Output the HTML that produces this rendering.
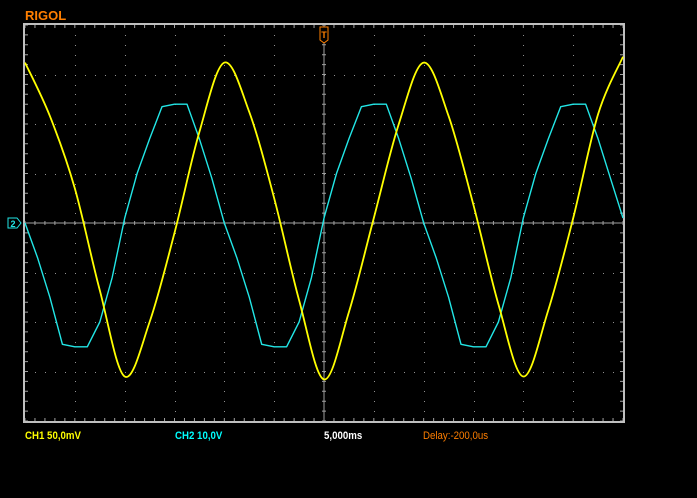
<!DOCTYPE html>
<html><head><meta charset="utf-8">
<style>
html,body{margin:0;padding:0;background:#000;width:697px;height:498px;overflow:hidden}
.lbl{position:absolute;font-family:"Liberation Sans",sans-serif;font-size:11px;font-weight:bold;top:430px;transform:scaleX(0.88);transform-origin:left}
</style></head><body>
<div style="position:relative;width:697px;height:498px">
<svg id="scope" width="697" height="498" style="position:absolute;left:0;top:0">
  <text x="25" y="20" fill="#ff7f00" font-family="Liberation Sans, sans-serif" font-weight="bold" font-size="13">RIGOL</text>
</svg>
<div class="lbl" style="left:25px;color:#ffff00">CH1 50,0mV</div>
<div class="lbl" style="left:175px;color:#00ffff">CH2 10,0V</div>
<div class="lbl" style="left:324px;color:#fff">5,000ms</div>
<div class="lbl" style="left:423px;color:#ff7f00;font-weight:normal">Delay:-200,0us</div>
</div>
<script>
// time (ms) of samples; CH1 in mV, CH2 in V
const ch1Values = [162,108,35,-68,-155,-100,-10,92,162,112,25,-78,-158,-90,5,100,162,108,18,-82,-155,-88,5,110,168];
const ch1Step = 2.5;
const ch2Values = [0,-7,-15,-24.5,-25,-25,-20,-11,1,10,17,23.5,24,24,17,9,
                   0,-7,-15,-24.5,-25,-25,-20,-11,1,10,17,23.5,24,24,17,9,
                   0,-7,-15,-24.5,-25,-25,-20,-11,1,10,17,23.5,24,24,17,9,1];
const ch2Step = 1.25;
const ch1PerDiv = 50, ch2PerDiv = 10, msPerDiv = 5;

const L=25,R=623,T=25,B=421,CY=(T+B)/2,DX=(R-L)/12,DY=(B-T)/8;
const xT = t => L + t/msPerDiv*DX;
const y1 = v => CY - v/ch1PerDiv*DY;
const y2 = v => CY - v/ch2PerDiv*DY;
const svg=document.getElementById('scope');
const NS='http://www.w3.org/2000/svg';
function mk(tag,attrs){const e=document.createElementNS(NS,tag);for(const k in attrs)e.setAttribute(k,attrs[k]);svg.appendChild(e);return e;}
function smooth(pts){
  let s=`M${pts[0][0].toFixed(1)} ${pts[0][1].toFixed(1)}`;
  for(let i=0;i<pts.length-1;i++){
    const p0=pts[Math.max(0,i-1)],p1=pts[i],p2=pts[i+1],p3=pts[Math.min(pts.length-1,i+2)];
    const c1=[p1[0]+(p2[0]-p0[0])/6,p1[1]+(p2[1]-p0[1])/6];
    const c2=[p2[0]-(p3[0]-p1[0])/6,p2[1]-(p3[1]-p1[1])/6];
    s+=`C${c1[0].toFixed(1)} ${c1[1].toFixed(1)} ${c2[0].toFixed(1)} ${c2[1].toFixed(1)} ${p2[0].toFixed(1)} ${p2[1].toFixed(1)}`;
  }
  return s;
}
// grid dots
let d='';
for(let i=1;i<12;i++){const x=Math.round(L+i*DX)+0.5;if(i===6)continue;for(let y=T+10;y<B;y+=DY/5)d+=`M${x-0.5} ${Math.round(y)}h1v1h-1z`;}
for(let j=1;j<8;j++){const y=Math.round(T+j*DY);if(j===4)continue;for(let x=L+10;x<R;x+=DX/5)d+=`M${Math.round(x)} ${y}h1v1h-1z`;}
const g=mk('path',{d:d,fill:'#909090'});


// center axes with ticks
let a=`M${L} ${CY}H${R}M${(L+R)/2} ${T}V${B}`;
for(let x=L;x<=R;x+=DX/5){a+=`M${x} ${CY-2}v4M${x} ${T}v3M${x} ${B}v-3`;}
for(let y=T;y<=B;y+=DY/5){a+=`M${(L+R)/2-2} ${y}h4M${L} ${y}h3M${R} ${y}h-3`;}
const ax=mk('path',{d:a,stroke:'#a0a0a0','stroke-width':1,fill:'none'});


const fr=mk('rect',{x:L-1,y:T-1,width:R-L+2,height:B-T+2,fill:'none',stroke:'#c0c0c0','stroke-width':2});


// traces
let p2=ch2Values.map((v,i)=>(i?'L':'M')+xT(i*ch2Step).toFixed(1)+' '+y2(v).toFixed(1)).join('');
const t2=mk('path',{d:p2,stroke:'#22e6e6','stroke-width':1.4,fill:'none','stroke-linejoin':'round'});


const p1=smooth(ch1Values.map((v,i)=>[xT(i*ch1Step),y1(v)]));
const t1=mk('path',{d:p1,stroke:'#ffff00','stroke-width':1.8,fill:'none','stroke-linejoin':'round'});


// markers
const tm=mk('path',{d:`M${(L+R)/2-4} 27h8v13l-4 3l-4-3z`,fill:'#000',stroke:'#ff7f00','stroke-width':1});


const tt=mk('text',{x:(L+R)/2,y:38,fill:'#ff7f00','font-size':9,'font-family':'Liberation Sans, sans-serif','text-anchor':'middle','font-weight':'bold'});tt.textContent='T';


const cm=mk('path',{d:`M8 ${CY-5}h9l4 5l-4 5h-9z`,fill:'#000',stroke:'#22e6e6','stroke-width':1});


const ct=mk('text',{x:13,y:CY+4,fill:'#22e6e6','font-size':9,'font-family':'Liberation Sans, sans-serif','text-anchor':'middle','font-weight':'bold'});ct.textContent='2';


</script>
</body></html>
